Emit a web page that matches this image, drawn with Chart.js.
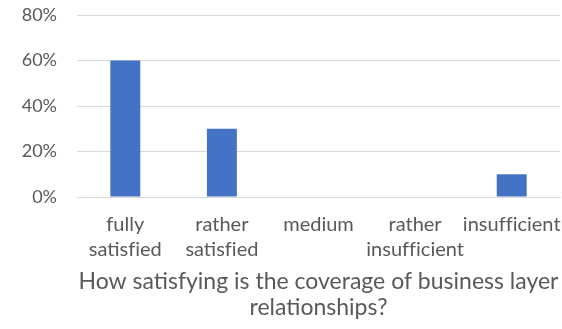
<!DOCTYPE html>
<html>
<head>
<meta charset="utf-8">
<script src="https://cdn.jsdelivr.net/npm/chart.js@4"></script>
<style>
  html, body { margin: 0; padding: 0; background: #fff; }
  #wrap { width: 562px; height: 329px; }
</style>
</head>
<body>
<div id="wrap"><canvas id="coverageChart"></canvas></div>
<script>
// Survey answers (share of respondents, %)
// \u200C keeps "f" and "i" as separate glyphs instead of the fi ligature
const categories = [
    ['fully', 'satisf\u200Cied'],
    ['rather', 'satisf\u200Cied'],
    'medium',
    ['rather', 'insuf\u200Cf\u200Cicient'],
    'insuf\u200Cf\u200Cicient'
];
const shares = [60, 30, 0, 0, 10];
const yTicks = [0, 20, 40, 60, 80];
const question = ['How satisfying is the coverage of business layer', 'relationships?'];

const textColor = '#595959';
const fontFamily = 'Lato, "Open Sans", sans-serif';

const ctx = document.getElementById('coverageChart').getContext('2d');
const coverageChart = new Chart(ctx, {
    type: 'bar',
    data: {
        labels: categories,
        datasets: [{
            label: 'Share',
            data: shares,
            backgroundColor: '#4472C4',
            borderWidth: 0,
            barPercentage: 0.31,
            categoryPercentage: 1
        }]
    },
    options: {
        responsive: true,
        maintainAspectRatio: false,
        animation: false,
        layout: { padding: { top: 15, right: 2, bottom: 8, left: 0 } },
        plugins: {
            legend: { display: false },
            tooltip: { enabled: false },
            title: {
                display: true,
                position: 'bottom',
                fullSize: false,   // centre the question under the plot, not the canvas
                text: question,
                color: textColor,
                font: { family: fontFamily, size: 23, weight: 'normal', lineHeight: 1.13 },
                padding: { top: 8, bottom: 0 }
            }
        },
        scales: {
            x: {
                afterFit: (scale) => {
                    scale.height = 64;
                    scale.paddingLeft = 0;
                    scale.paddingRight = 0;
                },
                grid: { display: false, drawTicks: false },
                border: { display: true, color: '#d9d9d9', width: 1 },
                ticks: {
                    color: textColor,
                    padding: 15,
                    maxRotation: 0,
                    autoSkip: false,
                    font: { family: fontFamily, size: 20, lineHeight: 1.25 }
                }
            },
            y: {
                min: yTicks[0],
                max: yTicks[yTicks.length - 1],
                afterBuildTicks: (scale) => { scale.ticks = yTicks.map(v => ({ value: v })); },
                afterFit: (scale) => {
                    scale.width = 77;
                    scale.paddingTop = 0;
                    scale.paddingBottom = 0;
                },
                grid: { color: '#d9d9d9', lineWidth: 1, drawTicks: false },
                border: { display: false },
                ticks: {
                    color: textColor,
                    padding: 20,
                    font: { family: fontFamily, size: 18 },
                    callback: (v) => v + '%'
                }
            }
        }
    }
});
</script>
</body>
</html>
